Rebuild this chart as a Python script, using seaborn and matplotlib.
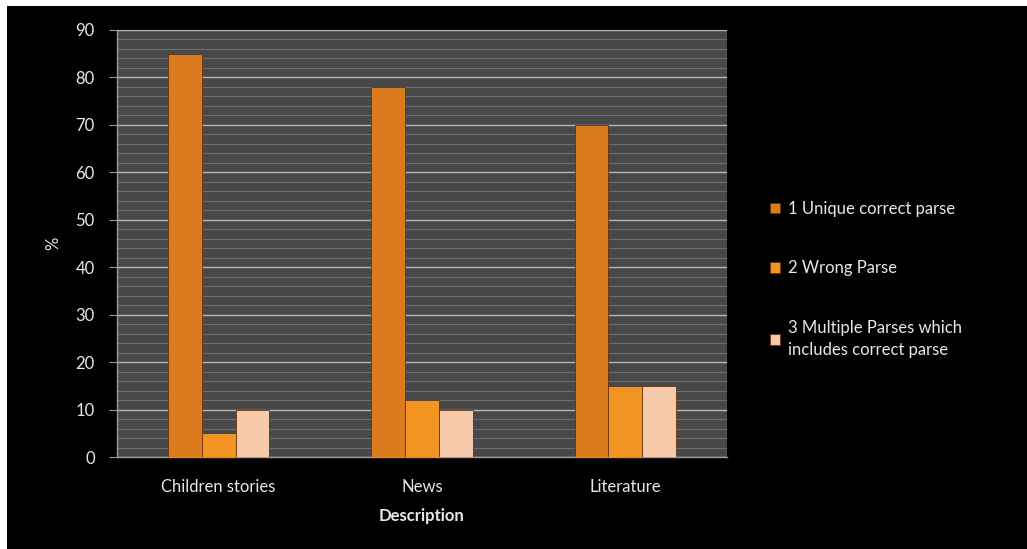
import pandas as pd
import seaborn as sns
import matplotlib.pyplot as plt
from matplotlib.patches import Rectangle
from matplotlib.ticker import MultipleLocator

categories = ["Children stories", "News", "Literature"]
series = ["1 Unique correct parse", "2 Wrong Parse",
          "3 Multiple Parses which\nincludes correct parse"]
unique_correct = [85, 78, 70]
wrong_parse = [5, 12, 15]
multiple_parses = [10, 10, 15]

colors = ["#dc7a1e", "#f29422", "#f6c9aa"]

rows = []
for name, vals in zip(series, [unique_correct, wrong_parse, multiple_parses]):
    for cat, v in zip(categories, vals):
        rows.append({"Description": cat, "series": name, "value": v})
df = pd.DataFrame(rows)

sns.set_style("dark")
plt.rcParams['font.family'] = ['Lato', 'DejaVu Sans']

fig = plt.figure(figsize=(10.27, 5.49), dpi=100, facecolor="white")
# black backdrop with thin white margin at top/left
fig.patches.append(Rectangle((7 / 1027, -0.1), 1.2, 1.1 - 6 / 549, transform=fig.transFigure,
                             facecolor="black", edgecolor="none", zorder=-10))

ax = fig.add_axes([117 / 1027, 1 - 457 / 549, 610 / 1027, 427 / 549])
ax.set_facecolor("#484848")

sns.barplot(data=df, x="Description", y="value", hue="series", palette=colors,
            saturation=1, width=0.5, ax=ax, legend=True,
            edgecolor="#6a3206", linewidth=0.6, zorder=3)

ax.set_ylim(0, 90)
ax.yaxis.set_major_locator(MultipleLocator(10))
ax.yaxis.set_minor_locator(MultipleLocator(2))
ax.grid(True, which="major", axis="y", color="#b8b8b8", linewidth=1.0, zorder=1)
ax.grid(True, which="minor", axis="y", color="#6e6e6e", linewidth=0.8, zorder=1)
ax.grid(False, axis="x")
ax.set_axisbelow(True)

for s in ["top", "right"]:
    ax.spines[s].set_visible(False)
for s in ["left", "bottom"]:
    ax.spines[s].set_visible(True)
    ax.spines[s].set_color("#9a9a9a")
    ax.spines[s].set_linewidth(1.0)

ax.tick_params(axis="y", which="major", left=True, length=6, color="#9a9a9a",
               labelcolor="#e8e8e8", labelsize=12, pad=10)
ax.tick_params(axis="y", which="minor", left=False)
ax.tick_params(axis="x", bottom=False, labelcolor="#e8e8e8", labelsize=12, pad=12)

ax.set_ylabel("%", color="#e8e8e8", fontsize=12, labelpad=10)
ax.set_xlabel("Description", color="#e8e8e8", fontsize=12, fontweight="bold", labelpad=10)

handles, labels = ax.get_legend_handles_labels()
ax.get_legend().remove()
leg = fig.legend(handles, labels, loc="upper left", bbox_to_anchor=(755 / 1027, 1 - 186 / 549),
                 frameon=False, fontsize=12, labelcolor="#e8e8e8", handlelength=0.6,
                 handleheight=0.6, handletextpad=0.5, labelspacing=2.6)
plt.setp(leg.get_texts(), linespacing=1.5)

fig.savefig("out.png", dpi=100, facecolor=fig.get_facecolor())
